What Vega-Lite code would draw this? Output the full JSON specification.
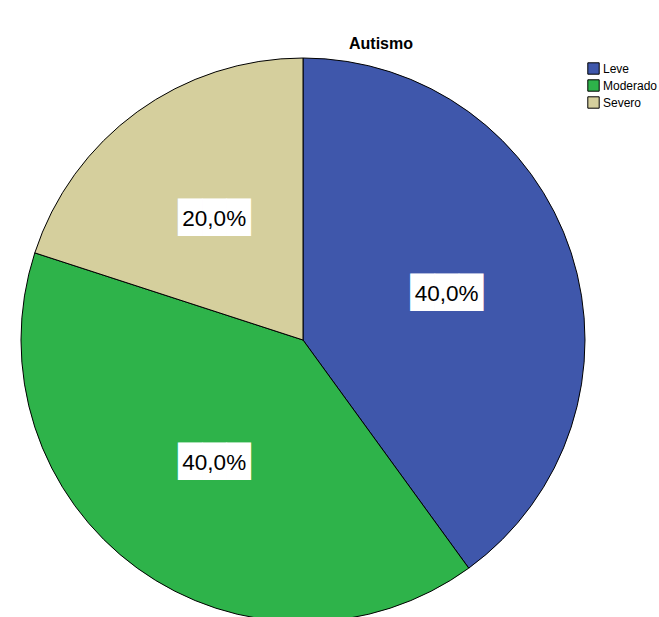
{
  "$schema": "https://vega.github.io/schema/vega-lite/v6.json",
  "width": 606,
  "height": 560,
  "autosize": "none",
  "padding": {"left": 0, "top": 60, "right": 53, "bottom": 0},
  "background": "white",
  "title": {"text": "Autismo", "font": "Liberation Sans", "fontSize": 16, "fontWeight": "bold", "color": "black", "anchor": "middle", "dx": 78, "offset": 4},
  "data": {"values": [
    {"cat": "Leve", "pct": 40, "label": "40,0%"},
    {"cat": "Moderado", "pct": 40, "label": "40,0%"},
    {"cat": "Severo", "pct": 20, "label": "20,0%"}
  ]},
  "encoding": {
    "theta": {"field": "pct", "type": "quantitative", "stack": true},
    "order": {"field": "cat", "type": "nominal"}
  },
  "layer": [
    {
      "mark": {"type": "arc", "outerRadius": 282, "stroke": "black", "strokeWidth": 1},
      "encoding": {
        "color": {"field": "cat", "type": "nominal",
          "scale": {"domain": ["Leve", "Moderado", "Severo"], "range": ["#3F57AB", "#2EB34A", "#D5CF9D"]},
          "legend": {"title": null, "orient": "none", "legendX": 587, "legendY": 2, "symbolType": "square", "symbolSize": 130, "symbolStrokeColor": "black", "symbolStrokeWidth": 1, "labelFont": "Liberation Sans", "labelFontSize": 12, "labelColor": "black", "rowPadding": 0, "labelOffset": 3}
        }
      }
    },
    {
      "mark": {"type": "text", "radius": 151, "font": "DejaVu Sans", "fontSize": 31.5, "color": "white", "baseline": "middle", "dy": 1},
      "encoding": {"detail": {"field": "cat"}, "text": {"value": "███"}}
    },
    {
      "mark": {"type": "text", "radius": 151, "font": "Liberation Sans", "fontSize": 22.5, "color": "black", "baseline": "middle", "dy": 1},
      "encoding": {"detail": {"field": "cat"}, "text": {"field": "label"}}
    }
  ]
}
